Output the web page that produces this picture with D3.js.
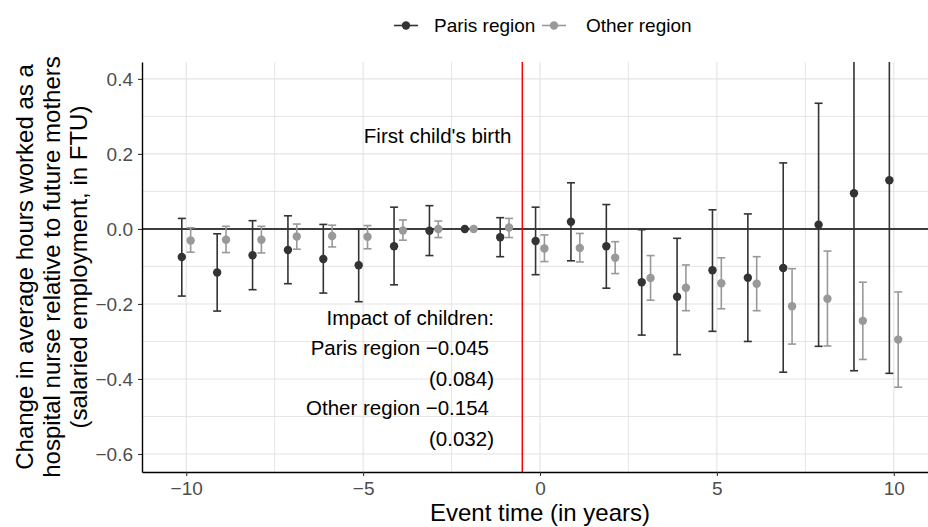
<!DOCTYPE html>
<html>
<head>
<meta charset="utf-8">
<script src="https://cdn.jsdelivr.net/npm/d3@7"></script>
<style>
  html, body { margin: 0; padding: 0; background: #fff; }
  svg { display: block; font-family: "Liberation Sans", Arial, sans-serif; }
</style>
</head>
<body>
<svg id="chart" width="928" height="527"></svg>
<script>
// ---- data ----
const years = [-10, -9, -8, -7, -6, -5, -4, -3, -2, -1, 0, 1, 2, 3, 4, 5, 6, 7, 8, 9, 10];

const parisEst = [-0.075, -0.116, -0.070, -0.056, -0.080, -0.097, -0.046, -0.005, 0, -0.022, -0.032, 0.019, -0.046, -0.142, -0.181, -0.110, -0.130, -0.104, 0.011, 0.095, 0.130];
const parisHi  = [0.028, -0.013, 0.022, 0.035, 0.012, 0.000, 0.058, 0.062, 0, 0.030, 0.058, 0.123, 0.065, -0.002, -0.025, 0.051, 0.040, 0.176, 0.335, 0.568, 0.645];
const parisLo  = [-0.179, -0.219, -0.162, -0.146, -0.171, -0.194, -0.149, -0.071, 0, -0.074, -0.122, -0.085, -0.158, -0.283, -0.335, -0.273, -0.300, -0.382, -0.313, -0.378, -0.385];

const otherEst = [-0.031, -0.029, -0.029, -0.020, -0.019, -0.021, -0.004, 0.000, 0, 0.004, -0.052, -0.051, -0.077, -0.131, -0.157, -0.145, -0.146, -0.206, -0.186, -0.245, -0.295];
const otherHi  = [0.003, 0.007, 0.007, 0.013, 0.010, 0.009, 0.024, 0.021, 0, 0.028, -0.016, -0.012, -0.034, -0.071, -0.096, -0.077, -0.074, -0.106, -0.059, -0.142, -0.168];
const otherLo  = [-0.062, -0.063, -0.064, -0.054, -0.048, -0.053, -0.030, -0.023, 0, -0.023, -0.087, -0.088, -0.119, -0.190, -0.218, -0.213, -0.218, -0.307, -0.312, -0.348, -0.422];

const seriesNames = ["Paris region", "Other region"];
const seriesColors = ["#333333", "#999999"];
const xTicks = [-10, -5, 0, 5, 10];
const yTicks = [-0.6, -0.4, -0.2, 0.0, 0.2, 0.4];
const xMinor = [-7.5, -2.5, 2.5, 7.5];
const yMinor = [-0.5, -0.3, -0.1, 0.1, 0.3];
const eventLine = -0.5;
const annotation = ["Impact of children:", "Paris region \u22120.045", "(0.084)", "Other region \u22120.154", "(0.032)"];

// ---- layout ----
const svg = d3.select("#chart");
const panel = { left: 142, right: 938, top: 62, bottom: 472 };
const x = d3.scaleLinear().domain([-11.25, 11.25]).range([panel.left, panel.right]);
const y = d3.scaleLinear().domain([-0.648, 0.445]).range([panel.bottom, panel.top]);
const dodge = 0.125;
const fmtMinus = v => (v < 0 ? "\u2212" : "") + Math.abs(v);
const fmtY = v => (v < 0 ? "\u2212" : "") + Math.abs(v).toFixed(1);

svg.append("defs").append("clipPath").attr("id", "clip")
  .append("rect").attr("x", panel.left).attr("y", panel.top)
  .attr("width", panel.right - panel.left).attr("height", panel.bottom - panel.top);

const grid = svg.append("g");
const gridColor = "#e3e3e3";
grid.selectAll("line.ymin").data(yMinor).join("line")
  .attr("x1", panel.left).attr("x2", panel.right)
  .attr("y1", d => y(d)).attr("y2", d => y(d))
  .attr("stroke", gridColor).attr("stroke-width", 0.9);
grid.selectAll("line.xmin").data(xMinor).join("line")
  .attr("y1", panel.top).attr("y2", panel.bottom)
  .attr("x1", d => x(d)).attr("x2", d => x(d))
  .attr("stroke", gridColor).attr("stroke-width", 0.9);
grid.selectAll("line.ymaj").data(yTicks).join("line")
  .attr("x1", panel.left).attr("x2", panel.right)
  .attr("y1", d => y(d)).attr("y2", d => y(d))
  .attr("stroke", gridColor).attr("stroke-width", 1.1);
grid.selectAll("line.xmaj").data(xTicks).join("line")
  .attr("y1", panel.top).attr("y2", panel.bottom)
  .attr("x1", d => x(d)).attr("x2", d => x(d))
  .attr("stroke", gridColor).attr("stroke-width", 1.1);

const plot = svg.append("g").attr("clip-path", "url(#clip)");

// reference lines
plot.append("line")
  .attr("x1", panel.left).attr("x2", panel.right)
  .attr("y1", y(0)).attr("y2", y(0))
  .attr("stroke", "#000").attr("stroke-width", 1.5);
plot.append("line")
  .attr("x1", x(eventLine)).attr("x2", x(eventLine))
  .attr("y1", panel.top).attr("y2", panel.bottom)
  .attr("stroke", "#ff0000").attr("stroke-width", 1.5);

// series
const series = [
  { est: parisEst, lo: parisLo, hi: parisHi, off: -dodge, color: seriesColors[0] },
  { est: otherEst, lo: otherLo, hi: otherHi, off: dodge, color: seriesColors[1] }
];
const capHalf = 4;
series.forEach(s => {
  const rows = years.map((yr, i) => ({ yr, est: s.est[i], lo: s.lo[i], hi: s.hi[i] }));
  const g = plot.append("g");
  const bars = rows.filter(r => r.hi !== r.lo);
  g.selectAll("line.v").data(bars).join("line")
    .attr("x1", r => x(r.yr + s.off)).attr("x2", r => x(r.yr + s.off))
    .attr("y1", r => y(r.lo)).attr("y2", r => y(r.hi))
    .attr("stroke", s.color).attr("stroke-width", 1.6);
  g.selectAll("line.t").data(bars).join("line")
    .attr("x1", r => x(r.yr + s.off) - capHalf).attr("x2", r => x(r.yr + s.off) + capHalf)
    .attr("y1", r => y(r.hi)).attr("y2", r => y(r.hi))
    .attr("stroke", s.color).attr("stroke-width", 1.6);
  g.selectAll("line.b").data(bars).join("line")
    .attr("x1", r => x(r.yr + s.off) - capHalf).attr("x2", r => x(r.yr + s.off) + capHalf)
    .attr("y1", r => y(r.lo)).attr("y2", r => y(r.lo))
    .attr("stroke", s.color).attr("stroke-width", 1.6);
  g.selectAll("circle").data(rows).join("circle")
    .attr("cx", r => x(r.yr + s.off)).attr("cy", r => y(r.est))
    .attr("r", 4.2).attr("fill", s.color);
});

// axes
const xAxis = svg.append("g").attr("transform", `translate(0,${panel.bottom})`)
  .call(d3.axisBottom(x).tickValues(xTicks).tickFormat(fmtMinus).tickSize(4).tickSizeOuter(0).tickPadding(5));
const yAxis = svg.append("g").attr("transform", `translate(${panel.left},0)`)
  .call(d3.axisLeft(y).tickValues(yTicks).tickFormat(fmtY).tickSize(4).tickSizeOuter(0).tickPadding(5));
[xAxis, yAxis].forEach(a => {
  a.select(".domain").attr("stroke", "#000").attr("stroke-width", 1.4);
  a.selectAll(".tick line").attr("stroke", "#333").attr("stroke-width", 1.1);
  a.selectAll(".tick text").attr("fill", "#4d4d4d")
    .style("font-size", "19px").style("font-family", "'Liberation Sans', Arial, sans-serif");
});
yAxis.selectAll(".tick text").attr("dy", "0.36em");
xAxis.selectAll(".tick text").attr("dy", "0.72em");

// axis titles
svg.append("text")
  .attr("x", (panel.left + panel.right) / 2).attr("y", 521)
  .attr("text-anchor", "middle").style("font-size", "24px").attr("fill", "#000")
  .text("Event time (in years)");

const yTitle = ["Change in average hours worked as a",
                "hospital nurse relative to future mothers",
                "(salaried employment, in FTU)"];
const yc = (panel.top + panel.bottom) / 2;
svg.append("g").selectAll("text").data(yTitle).join("text")
  .attr("transform", (d, i) => `translate(${33 + i * 27},${yc}) rotate(-90)`)
  .attr("text-anchor", "middle").style("font-size", "24px").attr("fill", "#000")
  .text(d => d);

// annotations
svg.append("text")
  .attr("x", x(eventLine) - 11).attr("y", y(0.23))
  .attr("text-anchor", "end").style("font-size", "20.5px").attr("fill", "#000")
  .text("First child's birth");

const annRight = [494, 489, 494, 489, 494];
const annBase = [325, 355, 386, 415, 446];
svg.append("g").selectAll("text").data(annotation).join("text")
  .attr("x", (d, i) => annRight[i]).attr("y", (d, i) => annBase[i])
  .attr("text-anchor", "end").style("font-size", "20.5px").attr("fill", "#000")
  .text(d => d);

// legend
const legend = svg.append("g");
const legKeys = [406, 554];
const legText = [434, 586];
seriesNames.forEach((name, i) => {
  legend.append("line").attr("x1", legKeys[i] - 12).attr("x2", legKeys[i] + 12)
    .attr("y1", 25.5).attr("y2", 25.5).attr("stroke", seriesColors[i]).attr("stroke-width", 1.6);
  legend.append("circle").attr("cx", legKeys[i]).attr("cy", 25.5).attr("r", 4.2).attr("fill", seriesColors[i]);
  legend.append("text").attr("x", legText[i]).attr("y", 31.5)
    .style("font-size", "19px").attr("fill", "#000").text(name);
});
</script>
</body>
</html>
